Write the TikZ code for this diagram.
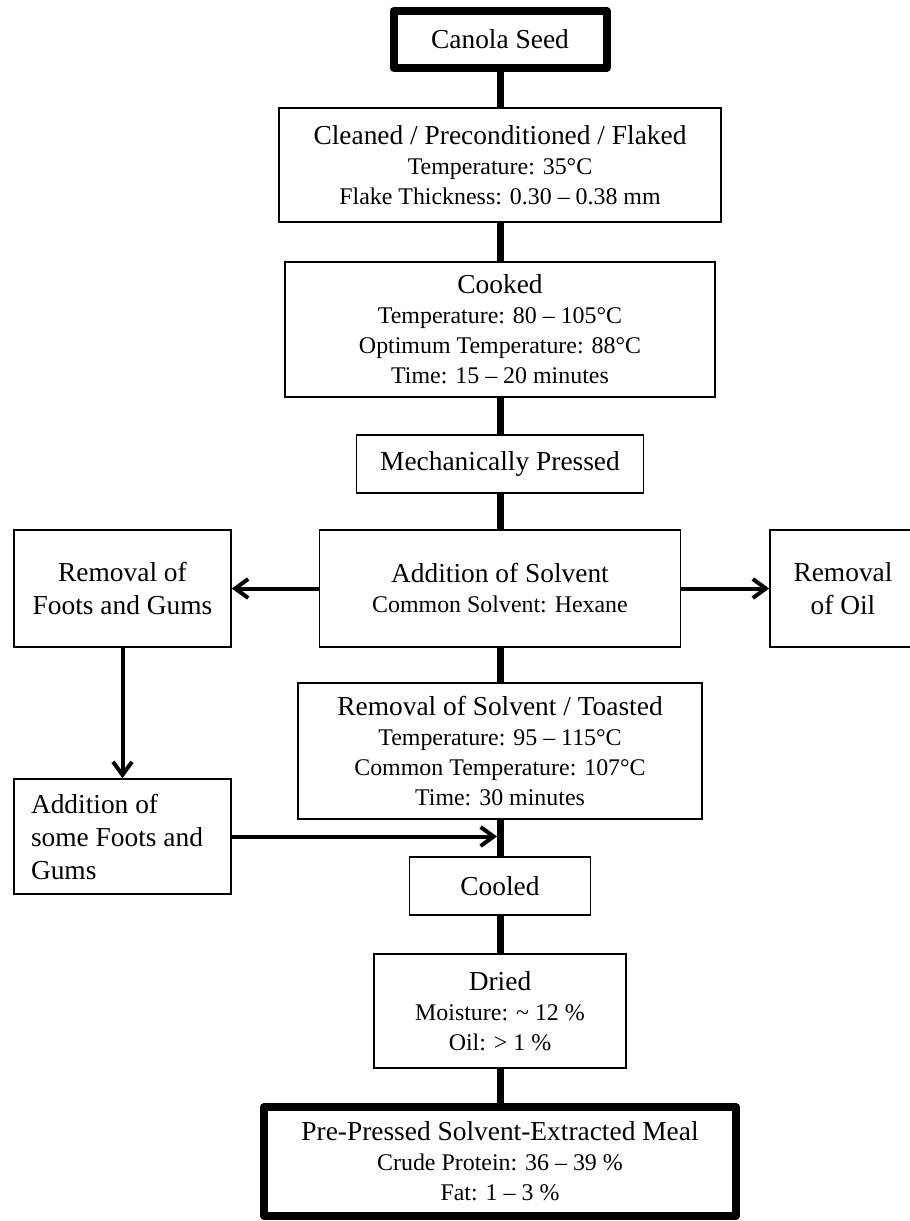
\documentclass[tikz,border=0pt]{standalone}
\usepackage{fontspec}
\setmainfont{Liberation Serif}
\usetikzlibrary{arrows.meta}

\newcommand{\bigtxt}{\fontsize{27.4}{33}\selectfont}
\newcommand{\smalltxt}{\fontsize{23.9}{30}\selectfont}

\begin{document}
\begin{tikzpicture}[x=1pt, y=-1pt,
        box/.style={draw, line width=1.6pt, align=center, font=\smalltxt, inner sep=0pt},
        endbox/.style={box, line width=8pt, line join=round},
        flow/.style={line width=7pt},
        arrow/.style={line width=4pt, -{Straight Barb[length=13pt, width=19pt]}},
        ]
    \useasboundingbox (0,0) rectangle (910,1221);

    % main column
    \node[endbox, font=\bigtxt, minimum width=213pt, minimum height=57pt] (seed) at (500,39.5) {Canola Seed};
    \node[box, minimum width=442pt, minimum height=114pt] (clean) at (500,165)
        {{\bigtxt Cleaned / Preconditioned / Flaked}\\Temperature: 35°C\\Flake Thickness: 0.30 – 0.38 mm};
    \node[box, minimum width=430pt, minimum height=135pt] (cook) at (500,329.5)
        {{\bigtxt Cooked}\\Temperature: 80 – 105°C\\Optimum Temperature: 88°C\\Time: 15 – 20 minutes};
    \node[box, font=\bigtxt, minimum width=287pt, minimum height=58pt] (press) at (500,464) {Mechanically Pressed};
    \node[box, minimum width=361pt, minimum height=117pt] (solvent) at (500,588.5)
        {{\bigtxt Addition of Solvent}\\Common Solvent: Hexane};
    \node[box, minimum width=404pt, minimum height=136pt] (toast) at (500,751)
        {{\bigtxt Removal of Solvent / Toasted}\\Temperature: 95 – 115°C\\Common Temperature: 107°C\\Time: 30 minutes};
    \node[box, font=\bigtxt, minimum width=181pt, minimum height=58pt] (cool) at (500,886) {Cooled};
    \node[box, minimum width=252pt, minimum height=114pt] (dry) at (500,1011)
        {{\bigtxt Dried}\\Moisture: \textasciitilde{} 12 \%\\Oil: > 1 \%};
    \node[endbox, minimum width=472pt, minimum height=109pt] (meal) at (500,1161.5)
        {{\bigtxt Pre-Pressed Solvent-Extracted Meal}\\Crude Protein: 36 – 39 \%\\Fat: 1 – 3 \%};

    % side boxes
    \node[box, font=\bigtxt, minimum width=217pt, minimum height=117pt] (foots) at (122.5,588.5) {Removal of\\Foots and Gums};
    \node[box, font=\bigtxt, minimum width=146pt, minimum height=117pt] (oil) at (843,588.5) {Removal\\of Oil};
    \node[box, font=\bigtxt, align=flush left, text width=183pt, inner xsep=17pt, minimum height=115pt] (addback) at (122.5,836.5)
        {Addition of\\some Foots and\\Gums};
    \coordinate (join) at (addback -| toast.south);

    \draw[arrow] (solvent) -- (foots);
    \draw[arrow] (solvent) -- (oil);
    \draw[arrow] (foots) -- (addback);
    \draw[arrow, shorten >=3pt] (addback) -- (join);

    \draw[flow] (seed) -- (clean);
    \draw[flow] (clean) -- (cook);
    \draw[flow] (cook) -- (press);
    \draw[flow] (press) -- (solvent);
    \draw[flow] (solvent) -- (toast);
    \draw[flow] (toast) -- (cool);
    \draw[flow] (cool) -- (dry);
    \draw[flow] (dry) -- (meal);
\end{tikzpicture}
\end{document}
